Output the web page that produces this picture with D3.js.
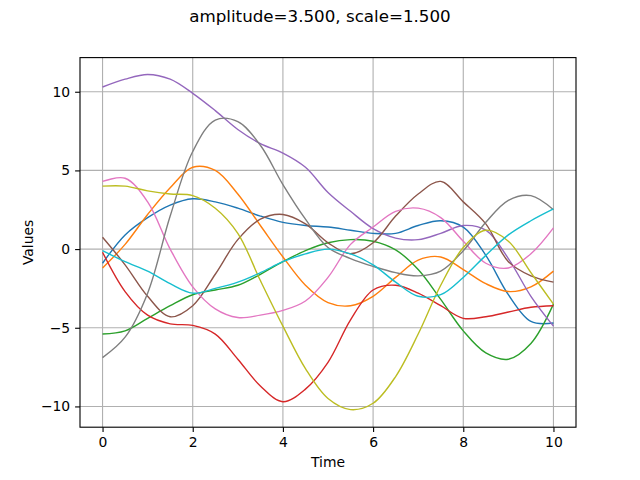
<!DOCTYPE html>
<html><head><meta charset="utf-8">
<script src="https://cdn.jsdelivr.net/npm/d3@7"></script>
<style>body{margin:0;background:#fff}svg{display:block}text{font-family:"DejaVu Sans",sans-serif}</style>
</head><body><svg id="c" width="640" height="480"></svg>
<script>
const times = [0,0.5,1,1.5,2,2.5,3,3.5,4,4.5,5,5.5,6,6.5,7,7.5,8,8.5,9,9.5,10];
const s0 = [-0.9,0.9,2.0,2.8,3.2,3.0,2.6,2.1,1.7,1.5,1.4,1.2,1.0,1.0,1.5,1.8,1.4,-0.4,-2.9,-4.6,-4.7];
const s1 = [-1.2,0.3,2.2,3.9,5.2,5.0,3.5,1.5,-0.5,-2.3,-3.4,-3.6,-3.0,-1.8,-0.7,-0.5,-1.3,-2.2,-2.7,-2.4,-1.4];
const s2 = [-5.4,-5.2,-4.4,-3.6,-2.9,-2.6,-2.3,-1.6,-0.8,-0.1,0.4,0.6,0.5,-0.05,-1.3,-3.2,-5.2,-6.6,-7.0,-6.0,-3.5];
const s3 = [-0.2,-2.7,-4.2,-4.75,-4.85,-5.4,-7.0,-8.7,-9.7,-8.9,-7.2,-4.5,-2.6,-2.3,-2.8,-3.6,-4.4,-4.3,-4.0,-3.7,-3.6];
const s4 = [10.3,10.8,11.1,10.8,9.9,8.8,7.6,6.7,6.1,5.2,3.6,2.4,1.3,0.7,0.6,1.0,1.5,1.2,-0.6,-3.0,-4.9];
const s5 = [0.75,-1.0,-3.0,-4.3,-3.6,-1.6,0.6,1.9,2.2,1.6,0.4,-0.3,0.4,2.1,3.5,4.3,3.0,1.6,-0.8,-1.7,-2.1];
const s6 = [4.3,4.5,3.0,0.0,-2.4,-3.8,-4.35,-4.2,-3.9,-3.3,-1.8,0.3,1.4,2.4,2.6,2.0,0.5,-0.9,-1.2,-0.3,1.35];
const s7 = [-6.9,-5.6,-2.8,2.1,6.2,8.2,8.1,6.6,4.1,1.9,0.1,-0.6,-1.1,-1.5,-1.7,-1.4,-0.1,1.7,3.1,3.4,2.5];
const s8 = [4.0,4.0,3.7,3.5,3.4,2.6,1.0,-2.0,-4.9,-7.6,-9.5,-10.2,-9.8,-8.1,-5.4,-2.3,0.1,1.2,0.5,-1.5,-3.5];
const s9 = [-0.1,-0.8,-1.4,-2.2,-2.8,-2.5,-2.1,-1.5,-0.8,-0.3,0.0,-0.3,-1.0,-2.1,-3.0,-2.9,-1.8,-0.4,0.9,1.8,2.55];
const seriesList = [s0,s1,s2,s3,s4,s5,s6,s7,s8,s9];
const colors = ["#1f77b4","#ff7f0e","#2ca02c","#d62728","#9467bd","#8c564b","#e377c2","#7f7f7f","#bcbd22","#17becf"];
const xTicks = [0,2,4,6,8,10];
const yTicks = [-10,-5,0,5,10];
const titleText = "amplitude=3.500, scale=1.500";

const L=80,R=576,T=57.6,B=427.2;
const svg=d3.select("#c");
const x=d3.scaleLinear().domain([-0.5,10.5]).range([L,R]);
const y=d3.scaleLinear().domain([-11.32,12.17]).range([B,T]);

svg.append("defs").append("clipPath").attr("id","clip").append("rect")
  .attr("x",L).attr("y",T).attr("width",R-L).attr("height",B-T);

const grid=svg.append("g");
xTicks.forEach(t=>grid.append("line").attr("x1",x(t)).attr("x2",x(t)).attr("y1",T).attr("y2",B)
  .attr("stroke","#b0b0b0").attr("stroke-width",0.8*100/72));
yTicks.forEach(t=>grid.append("line").attr("y1",y(t)).attr("y2",y(t)).attr("x1",L).attr("x2",R)
  .attr("stroke","#b0b0b0").attr("stroke-width",0.8*100/72));

const line=d3.line().x((d,i)=>x(times[i])).y(d=>y(d)).curve(d3.curveCatmullRom.alpha(0.5));
const lg=svg.append("g").attr("clip-path","url(#clip)");
seriesList.forEach((s,i)=>lg.append("path").attr("d",line(s)).attr("fill","none")
  .attr("stroke",colors[i]).attr("stroke-width",1.4));

const xa=svg.append("g").attr("transform",`translate(0,${B})`)
  .call(d3.axisBottom(x).tickValues(xTicks).tickFormat(d3.format("d")).tickSize(4.9).tickPadding(4.9));
const ya=svg.append("g").attr("transform",`translate(${L},0)`)
  .call(d3.axisLeft(y).tickValues(yTicks).tickFormat(d=>d<0?"\u2212"+Math.abs(d):d).tickSize(4.9).tickPadding(4.9));
[xa,ya].forEach(a=>{a.select(".domain").remove();
  a.selectAll("line").attr("stroke","#000").attr("stroke-width",0.8*100/72);
  a.selectAll("text").attr("font-family","DejaVu Sans").attr("font-size",13.9).attr("fill","#000");});

svg.append("rect").attr("x",L).attr("y",T).attr("width",R-L).attr("height",B-T)
  .attr("fill","none").attr("stroke","#000").attr("stroke-width",0.8*100/72);

svg.append("text").attr("x",(L+R)/2).attr("y",467).attr("text-anchor","middle")
  .attr("font-size",13.9).text("Time");
svg.append("text").attr("transform",`translate(33,${(T+B)/2}) rotate(-90)`).attr("text-anchor","middle")
  .attr("font-size",13.9).text("Values");
svg.append("text").attr("x",320).attr("y",22).attr("text-anchor","middle")
  .attr("font-size",16.7).text(titleText);
</script></body></html>
